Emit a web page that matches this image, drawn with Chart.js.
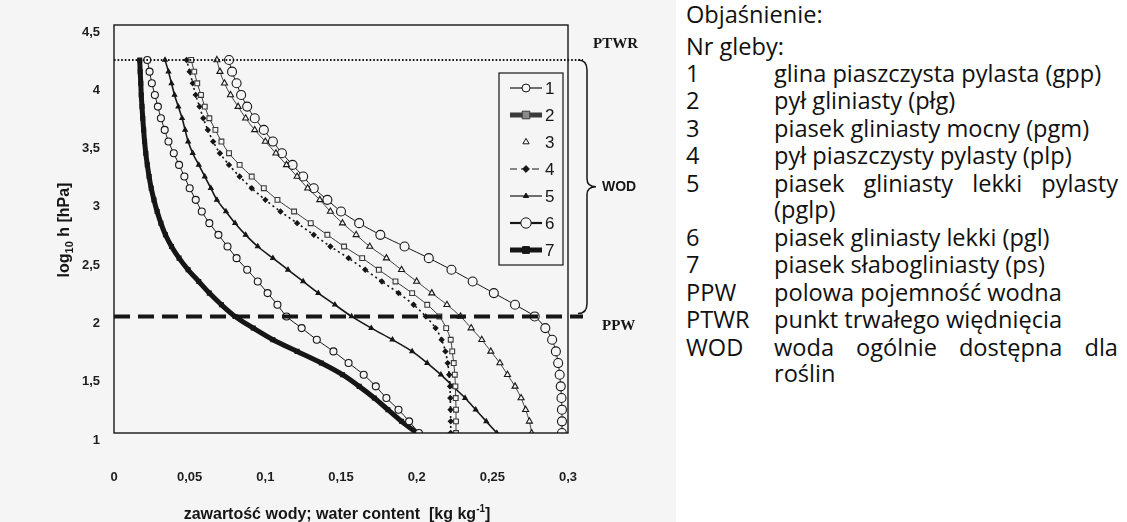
<!DOCTYPE html>
<html lang="pl">
<head>
<meta charset="utf-8">
<title>Krzywe retencji wodnej gleb</title>
<script src="https://cdn.jsdelivr.net/npm/chart.js@4.4.1/dist/chart.umd.min.js"></script>
<style>
  html, body { margin: 0; padding: 0; background: #fff; }
  body { width: 1127px; height: 522px; position: relative; overflow: hidden; }
  #wrap { position: absolute; left: 0; top: 0; width: 676px; height: 522px; }
  #notes { position: absolute; left: 686px; top: 0; width: 441px; height: 522px;
           font-family: "Open Sans", "Noto Sans", sans-serif; font-size: 23.6px; color: #111; }
  .row { position: absolute; left: 0; white-space: nowrap; line-height: 26px; height: 26px; }
  .desc { position: absolute; left: 88px; width: 344px; }
  .just { text-align: justify; text-align-last: justify; }
</style>
</head>
<body>
<div id="wrap"><canvas id="chart" width="676" height="522"></canvas></div>

<div id="notes">
  <div class="row" style="top:1px">Objaśnienie:</div>
  <div class="row" style="top:33px">Nr gleby:</div>
  <div class="row" style="top:60px">1<span class="desc">glina piaszczysta pylasta (gpp)</span></div>
  <div class="row" style="top:87px">2<span class="desc">pył gliniasty (płg)</span></div>
  <div class="row" style="top:115px">3<span class="desc">piasek gliniasty mocny (pgm)</span></div>
  <div class="row" style="top:142px">4<span class="desc">pył piaszczysty pylasty (plp)</span></div>
  <div class="row" style="top:170px">5<span class="desc just">piasek gliniasty lekki pylasty</span></div>
  <div class="row" style="top:196px"><span class="desc">(pglp)</span></div>
  <div class="row" style="top:224px">6<span class="desc">piasek gliniasty lekki (pgl)</span></div>
  <div class="row" style="top:251px">7<span class="desc">piasek słabogliniasty (ps)</span></div>
  <div class="row" style="top:279px">PPW<span class="desc">polowa pojemność wodna</span></div>
  <div class="row" style="top:306px">PTWR<span class="desc">punkt trwałego więdnięcia</span></div>
  <div class="row" style="top:334px">WOD<span class="desc just">woda ogólnie dostępna dla</span></div>
  <div class="row" style="top:360px"><span class="desc">roślin</span></div>
</div>

<script>
// log10 h [hPa] at which every curve was read
const logH = [1.0, 1.1, 1.2, 1.3, 1.4, 1.5, 1.6, 1.7, 1.8, 1.9, 2.0,
              2.1, 2.2, 2.3, 2.4, 2.5, 2.6, 2.7, 2.8, 2.9, 3.0,
              3.1, 3.2, 3.3, 3.4, 3.5, 3.6, 3.7, 3.8, 3.9, 4.0, 4.1, 4.2];

// water content [kg/kg] for soils 1..7, same order as logH
const soil1 = [0.2015, 0.195, 0.188, 0.180, 0.173, 0.165, 0.155, 0.145, 0.134, 0.124, 0.114,
               0.108, 0.1015, 0.095, 0.088, 0.081, 0.075, 0.069, 0.063, 0.058, 0.054,
               0.050, 0.0465, 0.043, 0.0395, 0.036, 0.0335, 0.031, 0.029, 0.027, 0.025, 0.0235, 0.022];
const soil2 = [0.226, 0.226, 0.226, 0.2258, 0.2256, 0.2252, 0.2245, 0.2235, 0.2225, 0.2195, 0.215,
               0.207, 0.197, 0.186, 0.175, 0.164, 0.152, 0.141, 0.130, 0.119, 0.108,
               0.099, 0.091, 0.083, 0.076, 0.071, 0.067, 0.063, 0.060, 0.0575, 0.055, 0.053, 0.051];
const soil3 = [0.276, 0.2745, 0.272, 0.269, 0.265, 0.260, 0.255, 0.249, 0.243, 0.236, 0.229,
               0.220, 0.210, 0.200, 0.190, 0.180, 0.169, 0.160, 0.151, 0.143, 0.136,
               0.128, 0.121, 0.114, 0.107, 0.100, 0.093, 0.087, 0.082, 0.077, 0.073, 0.070, 0.068];
const soil4 = [0.2225, 0.2225, 0.2224, 0.2222, 0.222, 0.2215, 0.2205, 0.219, 0.2165, 0.2125, 0.206,
               0.198, 0.188, 0.177, 0.166, 0.155, 0.143, 0.132, 0.121, 0.110, 0.100,
               0.091, 0.083, 0.076, 0.070, 0.0655, 0.062, 0.059, 0.0565, 0.054, 0.052, 0.050, 0.048];
const soil5 = [0.253, 0.246, 0.239, 0.232, 0.224, 0.216, 0.207, 0.197, 0.184, 0.170, 0.157,
               0.146, 0.135, 0.125, 0.115, 0.105, 0.095, 0.087, 0.080, 0.074, 0.068,
               0.064, 0.060, 0.056, 0.052, 0.049, 0.047, 0.045, 0.0425, 0.040, 0.038, 0.036, 0.0337];
const soil6 = [0.296, 0.296, 0.296, 0.2957, 0.2952, 0.2945, 0.2935, 0.292, 0.2895, 0.285, 0.278,
               0.265, 0.251, 0.237, 0.223, 0.208, 0.192, 0.176, 0.162, 0.150, 0.141,
               0.132, 0.125, 0.118, 0.111, 0.105, 0.099, 0.093, 0.088, 0.084, 0.081, 0.078, 0.076];
const soil7 = [0.200, 0.190, 0.181, 0.172, 0.162, 0.151, 0.137, 0.121, 0.105, 0.092, 0.080,
               0.071, 0.063, 0.056, 0.049, 0.043, 0.038, 0.034, 0.031, 0.0285, 0.0264,
               0.0246, 0.0232, 0.022, 0.021, 0.0202, 0.0196, 0.019, 0.0185, 0.018, 0.0177, 0.0173, 0.017];

const soilLabels = ['1', '2', '3', '4', '5', '6', '7'];
const xTicks = [0, 0.05, 0.1, 0.15, 0.2, 0.25, 0.3];
const yTicks = [1, 1.5, 2, 2.5, 3, 3.5, 4, 4.5];
const PPW = 2.0;   // polowa pojemność wodna
const PTWR = 4.2;  // punkt trwałego więdnięcia

const series = [soil1, soil2, soil3, soil4, soil5, soil6, soil7];

const INK = '#161616';
const PAPER = '#f5f5f5';
const SANS = '"Liberation Sans", Arial, sans-serif';

// how each soil is drawn (curve and its legend sample)
const looks = [
  { point: 'circle',   r: 3.5, fill: PAPER, line: 1,   dash: [],     legendLine: 1.2, legendR: 4 },
  { point: 'rect',     r: 3.4, fill: PAPER, line: 1,   dash: [],     legendLine: 5,   legendR: 3.8, legendFill: '#8a8a8a', color: '#3a3a3a' },
  { point: 'triangle', r: 3.5, fill: PAPER, line: 0.8, dash: [],     legendLine: 0,   legendR: 3.6 },
  { point: 'rectRot',  r: 2.4, fill: INK,   line: 1.6, dash: [2, 3], legendLine: 1.2, legendR: 2.6 },
  { point: 'triangle', r: 2.6, fill: INK,   line: 1.6, dash: [],     legendLine: 1.2, legendR: 3 },
  { point: 'circle',   r: 4.5, fill: PAPER, line: 1,   dash: [],     legendLine: 2.2, legendR: 5.2 },
  { point: 'rect',     r: 2.8, fill: INK,   line: 5,   dash: [],     legendLine: 5,   legendR: 3.4 }
];

const datasets = series.map((vals, i) => {
  const lk = looks[i];
  const col = lk.color || INK;
  return {
    label: soilLabels[i],
    data: vals.map((v, j) => ({ x: v, y: logH[j] })),
    showLine: true,
    tension: 0.3,
    borderColor: col,
    borderWidth: lk.line,
    borderDash: lk.dash,
    pointStyle: lk.point,
    pointRadius: lk.r,
    pointBorderColor: col,
    pointBackgroundColor: lk.fill,
    pointBorderWidth: 1.1
  };
});

const fmt = v => String(Math.round(v * 100) / 100).replace('.', ',');

// legend marker, drawn by hand so fill and outline stay under control
function marker(ctx, style, x, y, r) {
  ctx.beginPath();
  if (style === 'circle') {
    ctx.arc(x, y, r, 0, Math.PI * 2);
  } else if (style === 'rect') {
    ctx.rect(x - r, y - r, 2 * r, 2 * r);
  } else if (style === 'rectRot') {
    ctx.moveTo(x, y - r * 1.3); ctx.lineTo(x + r * 1.3, y);
    ctx.lineTo(x, y + r * 1.3); ctx.lineTo(x - r * 1.3, y);
    ctx.closePath();
  } else {
    ctx.moveTo(x, y - r); ctx.lineTo(x + r * 0.87, y + r * 0.5);
    ctx.lineTo(x - r * 0.87, y + r * 0.5);
    ctx.closePath();
  }
  ctx.fill();
  ctx.stroke();
}

function textRuns(ctx, runs, x, y) {
  // draws text pieces one after another, each with its own font and baseline shift
  let cx = x;
  runs.forEach(r => {
    ctx.font = r.font;
    ctx.fillText(r.t, cx, y + (r.dy || 0));
    cx += ctx.measureText(r.t).width;
  });
}

function runsWidth(ctx, runs) {
  return runs.reduce((w, r) => { ctx.font = r.font; return w + ctx.measureText(r.t).width; }, 0);
}

const overlay = {
  id: 'overlay',
  beforeDraw(chart) {
    const ctx = chart.ctx;
    ctx.save();
    ctx.fillStyle = PAPER;
    ctx.fillRect(0, 0, chart.width, chart.height);
    ctx.restore();
  },
  afterDatasetsDraw(chart) {
    const ctx = chart.ctx;
    const a = chart.chartArea;
    const ys = chart.scales.y;
    const yPTWR = ys.getPixelForValue(PTWR);
    const yPPW = ys.getPixelForValue(PPW);
    const lineEnd = a.right + 15;

    ctx.save();
    ctx.strokeStyle = INK;
    ctx.fillStyle = INK;

    // frame of the plot
    ctx.lineWidth = 1.4;
    ctx.strokeRect(a.left, a.top, a.right - a.left, a.bottom - a.top);

    // PTWR, dotted
    ctx.lineWidth = 2;
    ctx.setLineDash([1.6, 2]);
    ctx.beginPath();
    ctx.moveTo(a.left, yPTWR);
    ctx.lineTo(lineEnd, yPTWR);
    ctx.stroke();

    // PPW, heavy dashes
    ctx.lineWidth = 4;
    ctx.setLineDash([16, 8]);
    ctx.beginPath();
    ctx.moveTo(a.left, yPPW);
    ctx.lineTo(lineEnd, yPPW);
    ctx.stroke();
    ctx.setLineDash([]);

    // brace for WOD between PTWR and PPW
    const x0 = a.right + 10, xm = a.right + 19, tip = a.right + 28;
    const top = yPTWR, bot = yPPW - 3, mid = (top + bot) / 2;
    ctx.lineWidth = 1.5;
    ctx.beginPath();
    ctx.moveTo(x0, top);
    ctx.quadraticCurveTo(xm, top, xm, top + 10);
    ctx.lineTo(xm, mid - 8);
    ctx.quadraticCurveTo(xm, mid, tip, mid);
    ctx.quadraticCurveTo(xm, mid, xm, mid + 8);
    ctx.lineTo(xm, bot - 10);
    ctx.quadraticCurveTo(xm, bot, x0, bot);
    ctx.stroke();

    ctx.textBaseline = 'middle';
    ctx.textAlign = 'left';
    ctx.font = 'bold 15px "Liberation Serif", serif';
    ctx.fillText('PTWR', a.right + 25, yPTWR - 16);
    ctx.fillText('PPW', a.right + 34, yPPW + 10);
    ctx.font = 'bold 14px ' + SANS;
    ctx.fillText('WOD', a.right + 34, mid);

    // legend box inside the plot
    const lx = a.right - 69, ly = a.top + 48, lw = 64, lh = 192;
    ctx.fillStyle = PAPER;
    ctx.fillRect(lx, ly, lw, lh);
    ctx.lineWidth = 1.2;
    ctx.strokeStyle = INK;
    ctx.strokeRect(lx, ly, lw, lh);
    chart.data.datasets.forEach((ds, i) => {
      const lk = looks[i];
      const y = ly + 15 + i * 27;
      const col = lk.color || INK;
      if (lk.legendLine > 0) {
        ctx.strokeStyle = col;
        ctx.lineWidth = lk.legendLine;
        ctx.setLineDash(lk.dash.length ? [7, 4] : []);
        ctx.beginPath();
        ctx.moveTo(lx + 11, y);
        ctx.lineTo(lx + 43, y);
        ctx.stroke();
        ctx.setLineDash([]);
      }
      ctx.strokeStyle = col;
      ctx.lineWidth = 1;
      ctx.fillStyle = lk.legendFill || lk.fill;
      marker(ctx, lk.point, lx + 27, y, lk.legendR);
      ctx.fillStyle = INK;
      ctx.font = '17px ' + SANS;
      ctx.fillText(ds.label, lx + 46, y + 1);
    });

    // axis titles
    ctx.fillStyle = INK;
    ctx.textBaseline = 'alphabetic';
    const xt = [
      { t: 'zawartość wody; water content  [kg kg', font: 'bold 16px ' + SANS },
      { t: '-1', font: 'bold 10px ' + SANS, dy: -7 },
      { t: ']', font: 'bold 16px ' + SANS }
    ];
    textRuns(ctx, xt, 337 - runsWidth(ctx, xt) / 2, 519);

    const yt = [
      { t: 'log', font: 'bold 16px ' + SANS },
      { t: '10', font: 'bold 11px ' + SANS, dy: 4 },
      { t: ' h [hPa]', font: 'bold 16px ' + SANS }
    ];
    ctx.translate(69, 230);
    ctx.rotate(-Math.PI / 2);
    textRuns(ctx, yt, -runsWidth(ctx, yt) / 2, 0);
    ctx.restore();
  }
};

new Chart(document.getElementById('chart'), {
  type: 'scatter',
  data: { datasets },
  options: {
    responsive: false,
    animation: false,
    layout: { padding: { top: 25, right: 108, left: 0, bottom: 0 } },
    plugins: { legend: { display: false }, tooltip: { enabled: false } },
    scales: {
      x: {
        type: 'linear', min: 0, max: 0.3,
        afterBuildTicks: s => { s.ticks = xTicks.map(v => ({ value: v })); },
        afterFit: s => { s.height = 89; },
        grid: { display: false, drawTicks: false },
        border: { display: false },
        ticks: {
          padding: 37, color: '#1e1e1e',
          font: { family: SANS, size: 13, weight: 'bold' },
          callback: fmt, maxRotation: 0
        }
      },
      y: {
        type: 'linear', min: 1, max: 4.5,
        afterBuildTicks: s => { s.ticks = yTicks.map(v => ({ value: v })); },
        afterFit: s => { s.width = 114; },
        grid: { display: false, drawTicks: false },
        border: { display: false },
        ticks: {
          padding: 14, labelOffset: 7, color: '#1e1e1e',
          font: { family: SANS, size: 13, weight: 'bold' },
          callback: fmt
        }
      }
    }
  },
  plugins: [overlay]
});
</script>
</body>
</html>
